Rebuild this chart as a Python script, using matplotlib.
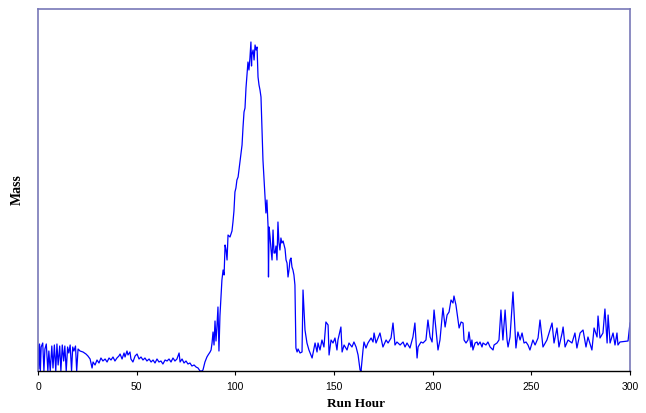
import matplotlib
matplotlib.use("Agg")
import matplotlib.pyplot as plt

hours = [0, 0.4, 0.8, 1.2, 1.6, 2.4, 3.0, 3.5, 4.2, 5.0, 5.5, 6.2, 7.0, 7.6, 8.3,
         9.0, 9.6, 10.2, 11.0, 11.6, 12.3, 13.0, 13.6, 14.3, 15.0, 15.6, 16.3,
         17.0, 17.6, 18.2, 19.0, 19.6,
         20.3, 21.3, 22.8, 24.3, 25.3, 26.4, 27.4, 27.9, 28.9, 29.9, 30.9, 31.9,
         32.9, 34.0, 35.0, 36.0, 37.0, 38.0, 39.0, 40.0, 41.0, 41.6, 42.6, 43.6,
         44.1, 45.1, 45.6, 46.6, 47.1, 48.1, 49.2, 50.2, 51.2, 52.2, 53.2, 54.2,
         55.2, 56.3, 57.3, 58.3, 59.3, 60.3, 61.3, 62.3, 63.3, 64.4, 65.4, 66.4,
         67.4, 68.4, 69.4, 70.4, 71.5, 72.0, 73.0, 74.0, 75.0, 76.0, 77.0, 78.0,
         79.1, 80.1, 81.1, 82.1, 83.1, 83.6, 84.6, 85.6, 86.2, 87.2, 87.7, 88.2,
         88.7, 89.2, 89.7, 90.2, 90.7, 91.2, 91.7, 92.2, 93.2, 93.8,
         94.3, 94.8, 95.3, 95.8, 96.3, 97.3, 98.3, 98.8, 99.3, 99.8, 100.3, 100.8,
         101.4, 102.4, 102.9, 103.4, 103.9, 104.4, 104.9, 105.4, 105.9, 106.4,
         106.9, 107.4, 107.9, 108.2, 108.4, 109.0, 109.5, 110.0, 110.5, 111.0,
         111.5, 112.0, 112.5, 113.0, 113.5, 114.0, 114.5, 115.0, 115.5, 116.0,
         116.6, 116.8, 117.1, 117.6, 118.1, 118.6, 119.1, 119.6, 120.1, 120.6,
         121.1, 121.6, 122.1, 122.6, 123.1, 123.6, 124.2, 125.2, 125.7, 126.2,
         126.7, 127.2, 127.7, 128.2, 128.7, 129.2, 129.7, 130.2,
         130.7, 131.3, 131.8, 132.8, 133.8, 134.3, 135.3, 136.3, 137.3, 138.9,
         139.4, 140.4, 141.4, 141.9, 142.9, 143.9, 144.9, 145.9, 147.0, 147.5,
         148.5, 149.5, 150.5, 151.5, 152.0, 153.5, 154.1, 155.1, 156.6, 157.6,
         159.1, 160.1, 161.2, 162.2, 163.2, 163.7, 164.7, 165.2, 166.2, 167.2,
         168.8, 169.8, 170.3, 171.3, 172.3, 173.3, 174.3, 174.8, 176.4, 177.4,
         178.9, 179.9, 180.9, 181.9, 183.5, 185.0, 186.0, 187.0, 188.5, 190.0,
         191.0, 192.1, 192.6, 194.1, 195.1, 196.6, 197.6, 198.7, 199.7, 200.7,
         201.7, 202.7, 203.7, 205.2, 206.3, 207.3, 208.3, 209.3, 210.3, 210.8,
         211.8, 212.3, 213.4, 214.4, 215.4, 215.9, 216.9, 217.9, 218.4, 219.4,
         219.9, 220.4, 221.5, 222.5, 223.0, 224.0, 225.0, 225.5, 227.0, 228.0,
         229.1, 230.6, 231.1, 232.6, 233.6, 234.6, 235.6, 236.7, 237.7, 238.2,
         239.2, 240.7, 241.7, 242.2, 243.2, 244.3, 245.3, 246.3, 247.3, 248.3,
         249.3, 250.8, 251.9, 253.4, 254.4, 255.9, 257.9, 260.5, 261.5, 263.0,
         264.0, 265.6, 266.1, 267.1, 268.6, 270.6, 272.1, 273.1, 274.7, 276.2,
         277.7, 278.7, 280.7, 281.8, 283.3, 283.8, 284.8, 286.3, 287.3, 288.4,
         288.9, 289.9, 291.4, 292.4, 293.4, 293.9, 294.9, 299.0, 300.0]

mass = [26, 2, 27, 0, 24, 28, 0, 22, 27, 0, 20, 0, 25, 3, 26,
        0, 27, 6, 25, 0, 26, 10, 25, 0, 24, 18, 26,
        0, 24, 20, 25, 0,
        22, 20, 19, 17, 15, 12, 3, 9, 6, 11, 8, 13,
        10, 12, 9, 13, 11, 14, 10, 13, 15, 17, 12, 18,
        14, 20, 16, 19, 12, 9, 15, 17, 12, 14, 11, 13,
        10, 12, 9, 11, 8, 12, 9, 10, 7, 11, 10, 12,
        9, 13, 10, 12, 18, 9, 12, 8, 10, 7, 8, 5,
        6, 4, 3, 0, 0, 1, 9, 14, 16, 19, 21, 28,
        39, 26, 50, 30, 45, 64, 20, 55, 91, 101,
        96, 126, 121, 111, 136, 134, 140, 149, 160, 179, 183, 191,
        194, 210, 218, 226, 244, 259, 263, 283, 296, 309,
        301, 313, 329, 305, 316, 321, 311, 326, 321, 324,
        294, 286, 281, 274, 241, 211, 193, 174, 158, 171,
        144, 94, 144, 134, 121, 111, 141, 118, 118, 125,
        111, 149, 128, 121, 133, 128, 130, 122, 111, 108,
        94, 101, 111, 113, 104, 101, 96, 86,
        23, 19, 22, 18, 19, 81, 41, 28, 21, 13,
        18, 28, 19, 28, 21, 31, 24, 49, 46, 16,
        31, 28, 33, 21, 31, 44, 19, 26, 21, 28,
        24, 29, 24, 16, 1, 0, 21, 29, 23, 28,
        33, 29, 38, 28, 33, 38, 29, 24, 31, 28,
        33, 48, 26, 29, 26, 29, 24, 28, 23, 34,
        48, 13, 24, 29, 28, 31, 51, 34, 29, 61,
        41, 21, 31, 63, 44, 56, 59, 71, 68, 75,
        66, 59, 43, 49, 48, 31, 28, 31, 39, 24,
        31, 21, 28, 29, 26, 29, 24, 28, 26, 29,
        24, 21, 26, 28, 31, 61, 31, 61, 31, 24,
        34, 79, 41, 23, 39, 31, 38, 28, 29, 26,
        21, 31, 26, 33, 51, 24, 31, 48, 28, 43,
        24, 38, 44, 24, 31, 28, 38, 23, 38, 41,
        24, 34, 21, 43, 34, 55, 33, 38, 62, 28,
        56, 28, 38, 26, 38, 26, 29, 30, 48]

xticks = [0, 50, 100, 150, 200, 250, 300]

fig = plt.figure(figsize=(6.46, 4.13), dpi=100)
ax = fig.add_axes([38 / 646, 42 / 413, 592 / 646, 362 / 413])

ax.plot(hours, mass, color='#0000FF', linewidth=0.9)

ax.set_xlim(0, 300)
ax.set_ylim(0, 362)
ax.set_xticks(xticks)
ax.set_xticklabels([str(t) for t in xticks], fontsize=7.5, family='Liberation Sans')
ax.set_yticks([])
ax.tick_params(axis='x', direction='out', length=3, width=0.8, pad=5)

for side in ['left', 'top', 'right']:
    ax.spines[side].set_color('#7878B8')
    ax.spines[side].set_linewidth(1.2)
ax.spines['bottom'].set_color('black')
ax.spines['bottom'].set_linewidth(1.0)

ax.set_xlabel('Run Hour', fontsize=9.5, fontweight='bold', family='Liberation Serif')
ax.xaxis.set_label_coords(0.537, -0.075)
ax.set_ylabel('Mass', fontsize=10, fontweight='bold', family='Liberation Serif')
ax.yaxis.set_label_coords(-0.024, 0.5)

fig.savefig('out.png', dpi=100)
